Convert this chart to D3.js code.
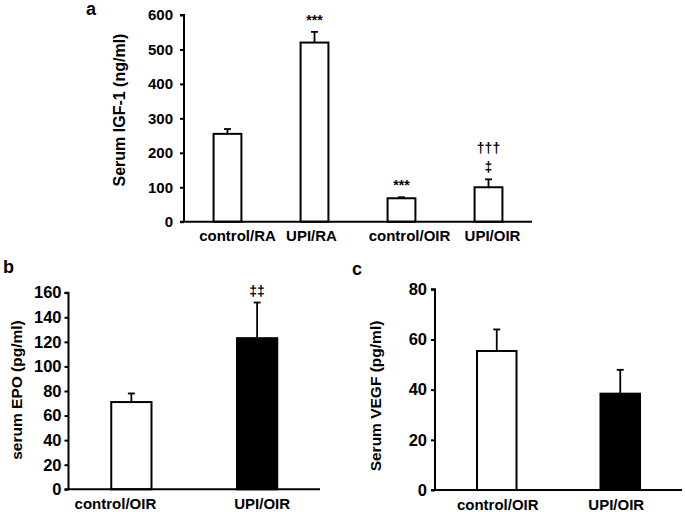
<!DOCTYPE html>
<html><head><meta charset="utf-8">
<script src="https://cdn.jsdelivr.net/npm/d3@7/dist/d3.min.js"></script>
<style>
html,body{margin:0;padding:0;background:#fff;}
svg{display:block;}
text{font-family:"Liberation Sans",Arial,sans-serif;fill:#000;}
</style></head>
<body>
<svg id="chart" width="685" height="512"></svg>
<script>
// Panel a: serum IGF-1
const catsA = ["control/RA", "UPI/RA", "control/OIR", "UPI/OIR"];
const igfMean = [255, 520, 68, 100];
const igfErr = [14, 31, 3, 23];
const igfMarks = [[], ["***"], ["***"], ["‡", "†††"]];
const ticksA = [0, 100, 200, 300, 400, 500, 600];

// Panel b: serum EPO
const catsB = ["control/OIR", "UPI/OIR"];
const epoMean = [71, 123];
const epoErr = [7, 29];
const epoMarks = [[], ["‡‡"]];
const ticksB = [0, 20, 40, 60, 80, 100, 120, 140, 160];

// Panel c: serum VEGF
const catsC = ["control/OIR", "UPI/OIR"];
const vegfMean = [55.4, 38.4];
const vegfErr = [8.6, 9.5];
const vegfMarks = [[], []];
const ticksC = [0, 20, 40, 60, 80];

// styles (not data)
const fillsA = ["#fff", "#fff", "#fff", "#fff"];
const fillsBC = ["#fff", "#000"];
const labelShiftA = [10, -3, 8, 4];
const labelShiftB = [-16, 5];
const labelShiftC = [1, -4];

const svg = d3.select("#chart");

function panel(cfg) {
  const g = svg.append("g");
  const x = d3.scaleBand().domain(cfg.cats).range([cfg.x0, cfg.x1]).paddingInner(0.68).paddingOuter(0.34);
  const y = d3.scaleLinear().domain([0, cfg.max]).range([cfg.y0, cfg.y1]);

  const rows = cfg.cats.map((c, i) => ({c, m: cfg.mean[i], e: cfg.err[i], f: cfg.fills[i], marks: cfg.marks[i]}));
  const cx = d => x(d.c) + x.bandwidth() / 2;

  g.selectAll(".err").data(rows).enter().append("line")
    .attr("x1", cx).attr("x2", cx)
    .attr("y1", d => y(d.m)).attr("y2", d => y(d.m + d.e))
    .attr("stroke", "#000").attr("stroke-width", 1.8);
  g.selectAll(".cap").data(rows).enter().append("line")
    .attr("x1", d => cx(d) - 3.5).attr("x2", d => cx(d) + 3.5)
    .attr("y1", d => y(d.m + d.e)).attr("y2", d => y(d.m + d.e))
    .attr("stroke", "#000").attr("stroke-width", 1.8);
  g.selectAll(".bar").data(rows).enter().append("rect")
    .attr("x", d => x(d.c)).attr("width", x.bandwidth())
    .attr("y", d => y(d.m)).attr("height", d => y(0) - y(d.m))
    .attr("fill", d => d.f).attr("stroke", "#000").attr("stroke-width", 2);

  rows.forEach(d => {
    d.marks.forEach((mk, j) => {
      g.append("text")
        .attr("x", cx(d))
        .attr("y", y(d.m + d.e) - 7 - j * 19)
        .attr("text-anchor", "middle")
        .attr("font-size", 14).attr("font-weight", "bold")
        .text(mk);
    });
  });

  // y axis
  const ya = g.append("g").attr("transform", `translate(${cfg.x0},0)`)
    .call(d3.axisLeft(y).tickValues(cfg.ticks).tickSize(4).tickPadding(cfg.ypad).tickFormat(d3.format("d")));
  ya.select(".domain").attr("stroke-width", 2).attr("d", `M-4,${cfg.y1}H0V${cfg.y0}`);
  ya.selectAll(".tick line").attr("stroke-width", 2);
  ya.selectAll(".tick text").attr("font-size", cfg.tfs).attr("font-weight", "bold")
    .attr("font-family", "Liberation Sans, Arial, sans-serif").attr("fill", "#000");

  // x axis
  const xa = g.append("g").attr("transform", `translate(0,${cfg.y0})`)
    .call(d3.axisBottom(x).tickSize(0).tickPadding(9));
  xa.select(".domain").attr("stroke-width", 2).attr("d", `M${cfg.x0 - 4},0H${cfg.x1}`);
  xa.selectAll(".tick text").attr("font-size", 15).attr("font-weight", "bold")
    .attr("font-family", "Liberation Sans, Arial, sans-serif").attr("fill", "#000")
    .attr("dx", (d, i) => cfg.shift[i]);

  // y label
  g.append("text")
    .attr("transform", `translate(${cfg.lx},${cfg.ly}) rotate(-90)`)
    .attr("text-anchor", "middle").attr("dominant-baseline", "central")
    .attr("font-size", cfg.lfs).attr("font-weight", "bold")
    .text(cfg.ylabel);

  g.append("text").attr("x", cfg.px).attr("y", cfg.py)
    .attr("font-size", 18).attr("font-weight", "bold").text(cfg.letter);
}

panel({cats: catsA, mean: igfMean, err: igfErr, marks: igfMarks, fills: fillsA, ticks: ticksA, max: 600,
  x0: 184, x1: 532, y0: 221.7, y1: 15, ypad: 7, tfs: 15, shift: labelShiftA,
  ylabel: "Serum IGF-1 (ng/ml)", lx: 119, ly: 110, lfs: 16,
  letter: "a", px: 86, py: 15});
panel({cats: catsB, mean: epoMean, err: epoErr, marks: epoMarks, fills: fillsBC, ticks: ticksB, max: 160,
  x0: 68.5, x1: 320, y0: 489.3, y1: 292.7, ypad: 3, tfs: 16.5, shift: labelShiftB,
  ylabel: "serum EPO (pg/ml)", lx: 16, ly: 390, lfs: 15.5,
  letter: "b", px: 3, py: 273});
panel({cats: catsC, mean: vegfMean, err: vegfErr, marks: vegfMarks, fills: fillsBC, ticks: ticksC, max: 80,
  x0: 435, x1: 682, y0: 490, y1: 289.3, ypad: 4, tfs: 16.5, shift: labelShiftC,
  ylabel: "Serum VEGF (pg/ml)", lx: 375, ly: 396, lfs: 15.5,
  letter: "c", px: 352, py: 275});
</script>
</body></html>
